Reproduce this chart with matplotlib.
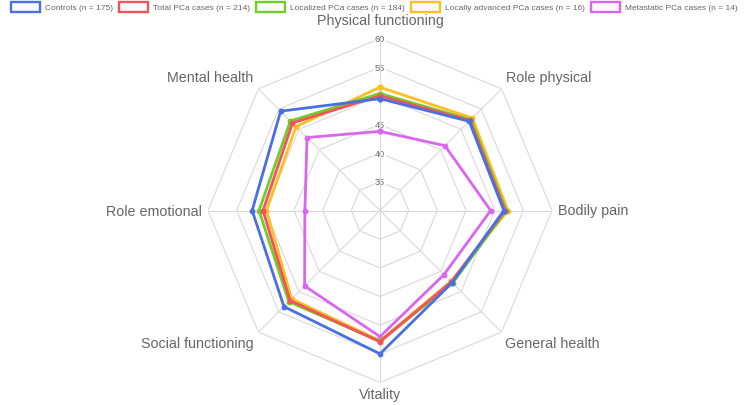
import numpy as np
import matplotlib
matplotlib.use("Agg")
import matplotlib.pyplot as plt
from matplotlib.patches import Rectangle

plt.rcParams['font.family'] = ['Liberation Sans', 'DejaVu Sans']

categories = ['Physical functioning', 'Role physical', 'Bodily pain', 'General health',
              'Vitality', 'Social functioning', 'Role emotional', 'Mental health']
controls = [49.5, 52.0, 51.6, 47.8, 55.0, 53.7, 52.3, 54.5]
total_pca = [50.0, 52.2, 51.8, 47.6, 52.9, 52.2, 50.4, 51.6]
localized = [50.4, 52.4, 52.0, 47.9, 52.8, 52.5, 51.1, 52.1]
locally_advanced = [51.5, 52.8, 52.3, 47.5, 52.7, 51.8, 49.8, 50.7]
metastatic = [43.8, 46.0, 49.3, 45.8, 52.0, 48.6, 43.1, 48.0]
series_names = ['Controls (n = 175)', 'Total PCa cases (n = 214)', 'Localized PCa cases (n = 184)',
                'Locally advanced PCa cases (n = 16)', 'Metastatic PCa cases (n = 14)']
r_ticks = [35, 40, 45, 50, 55, 60]
r_min, r_max = 30, 60

series = [controls, total_pca, localized, locally_advanced, metastatic]
colors = ['#4a6fe3', '#f4535a', '#6fcd2c', '#ffbe26', '#da66ef']

W, H = 749, 406
fig = plt.figure(figsize=(W / 100, H / 100), dpi=100)

cx, cy_top, R = 380, 211.5, 172
cy = H - cy_top
ax = fig.add_axes([(cx - R) / W, (cy - R) / H, 2 * R / W, 2 * R / H], projection='polar')
ax.set_theta_zero_location('N')
ax.set_theta_direction(-1)
ax.set_ylim(r_min, r_max)
ax.spines['polar'].set_visible(False)
ax.set_facecolor('none')

n = len(categories)
angles = np.arange(n) * 2 * np.pi / n
closed = np.append(angles, angles[0])

grid_c = '#d9d9d9'
ax.set_xticks(angles)
ax.set_xticklabels([])
ax.set_yticks([])
ax.xaxis.grid(True, color=grid_c, lw=0.8)
ax.yaxis.grid(False)
for r in r_ticks:
    ax.plot(closed, [r] * (n + 1), color=grid_c, lw=0.8, zorder=0.5)

for r in r_ticks:
    ax.text(0, r, str(r), ha='center', va='center', fontsize=6.6, color='#666666',
            zorder=1, bbox=dict(facecolor='white', edgecolor='none', pad=0.6))

for i in range(len(series) - 1, -1, -1):
    vals = series[i]
    ax.plot(closed, vals + [vals[0]], color=colors[i], lw=2.0, marker='o', ms=3.2,
            mec=colors[i], mfc=colors[i], zorder=10 - i, clip_on=False)

# point labels
offsets = [(0, 12, 'center', 'bottom'), (4, 12, 'left', 'center'), (6, 0, 'left', 'center'),
           (3, -11, 'left', 'center'), (0, -5, 'center', 'top'), (-5, -11, 'right', 'center'),
           (-6, 0, 'right', 'center'), (-5, 12, 'right', 'center')]
for a, lab, (dx, dy, ha, va) in zip(angles, categories, offsets):
    ax.annotate(lab, xy=(a, r_max), xycoords='data', xytext=(dx, dy), textcoords='offset pixels',
                ha=ha, va=va, fontsize=10.3, color='#666666', annotation_clip=False)

# legend
renderer = fig.canvas.get_renderer()
box_w, box_h, gap, item_gap = 29, 9.5, 5, 6
fs = 6.05
widths = []
for name in series_names:
    t = fig.text(0, 0, name, fontsize=fs)
    widths.append(t.get_window_extent(renderer).width)
    t.remove()
total_w = sum(box_w + gap + w for w in widths) + item_gap * (len(widths) - 1)
x = (W - total_w) / 2
ly = H - 8
for name, col, w in zip(series_names, colors, widths):
    fig.add_artist(Rectangle(((x) / W, (ly - box_h / 2) / H), box_w / W, box_h / H,
                             transform=fig.transFigure, facecolor='#fbfbff', edgecolor=col, lw=1.7))
    fig.text((x + box_w + gap) / W, ly / H, name, fontsize=fs, color='#666666', ha='left', va='center')
    x += box_w + gap + w + item_gap

fig.savefig('out.png', dpi=100)
